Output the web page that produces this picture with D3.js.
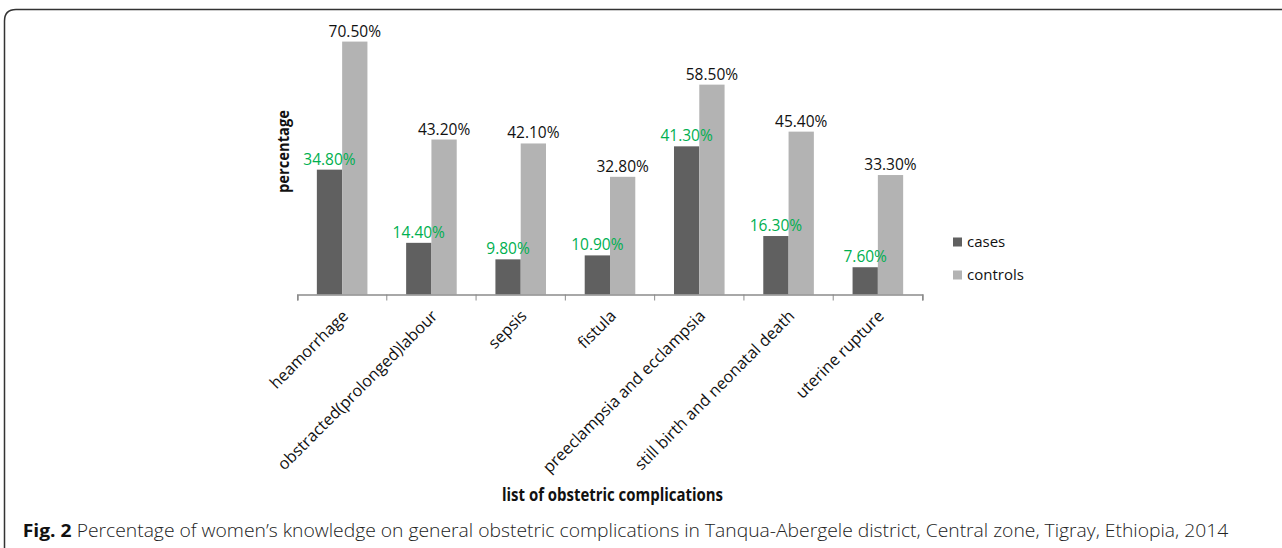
<!DOCTYPE html>
<html>
<head>
<meta charset="utf-8">
<script src="https://cdn.jsdelivr.net/npm/d3@7"></script>
<style>
  html, body { margin: 0; padding: 0; background: #fff; }
  svg { display: block; font-family: "Open Sans", sans-serif; }
</style>
</head>
<body>
<svg id="chart" width="1282" height="548"></svg>
<script>
const categories = ["heamorrhage", "obstracted(prolonged)labour", "sepsis", "fistula",
  "preeclampsia and ecclampsia", "still birth and neonatal death", "uterine rupture"];
const seriesNames = ["cases", "controls"];
const casesValues = [34.8, 14.4, 9.8, 10.9, 41.3, 16.3, 7.6];
const controlsValues = [70.5, 43.2, 42.1, 32.8, 58.5, 45.4, 33.3];
const yTitle = "percentage";
const xTitle = "list of obstetric complications";
const captionBold = "Fig. 2";
const captionText = " Percentage of women\u2019s knowledge on general obstetric complications in Tanqua-Abergele district, Central zone, Tigray, Ethiopia, 2014";

const colors = { cases: "#606060", controls: "#b3b3b3" };
const labelColors = { cases: "#00b050", controls: "#111" };

const svg = d3.select("#chart");

// frame
svg.append("path")
  .attr("d", "M4.5,548 L4.5,21 Q4.5,9.5 16,9.5 L1282,9.5")
  .attr("fill", "none").attr("stroke", "#333").attr("stroke-width", 1.5);

const x0 = d3.scaleBand().domain(categories).range([297.5, 922.5]).padding(0);
const x1 = d3.scaleBand().domain(seriesNames).range([0, x0.bandwidth()])
  .paddingInner(0).paddingOuter(0.765);
const y = d3.scaleLinear().domain([0, 80]).range([294.5, 7.5]);

const data = categories.map((c, i) => ({ cat: c, cases: casesValues[i], controls: controlsValues[i] }));

const groups = svg.append("g").selectAll("g").data(data).join("g")
  .attr("transform", d => `translate(${x0(d.cat)},0)`);

groups.selectAll("rect").data(d => seriesNames.map(s => ({ s, v: d[s] }))).join("rect")
  .attr("x", d => x1(d.s))
  .attr("width", x1.bandwidth())
  .attr("y", d => y(d.v))
  .attr("height", d => y(0) - y(d.v))
  .attr("fill", d => colors[d.s]);

groups.selectAll("text.lbl").data(d => seriesNames.map(s => ({ s, v: d[s] }))).join("text")
  .attr("class", "lbl")
  .attr("x", d => x1(d.s) + x1.bandwidth() / 2)
  .attr("y", d => y(d.v) - 5)
  .attr("text-anchor", "middle")
  .attr("font-size", 15.5)
  .attr("fill", d => labelColors[d.s])
  .text(d => d.v.toFixed(2) + "%");

// x axis
const xAxis = d3.axisBottom(x0).tickSize(6).tickSizeOuter(6).tickFormat("");
const axG = svg.append("g").attr("transform", `translate(0,${y(0)})`).call(xAxis);
axG.select(".domain").attr("stroke", "#8c8c8c").attr("stroke-width", 1.5);
axG.selectAll(".tick").remove();
// ticks at category boundaries (Excel style)
const bounds = categories.map(c => x0(c)).concat([x0.range()[1]]);
axG.selectAll("line.b").data(bounds).join("line").attr("class", "b")
  .attr("x1", d => d).attr("x2", d => d).attr("y1", 0).attr("y2", 6)
  .attr("stroke", "#8c8c8c").attr("stroke-width", 1);

// rotated category labels
svg.append("g").selectAll("text").data(categories).join("text")
  .attr("transform", d => `translate(${x0(d) + x0.bandwidth() / 2 + 7},317) rotate(-45)`)
  .attr("text-anchor", "end")
  .attr("font-size", 16.2)
  .attr("fill", "#111")
  .text(d => d);

// axis titles
svg.append("text")
  .attr("transform", "translate(289,151.5) rotate(-90)")
  .attr("text-anchor", "middle")
  .attr("font-size", 16.5).attr("font-weight", "bold").attr("fill", "#111")
  .attr("textLength", 83).attr("lengthAdjust", "spacingAndGlyphs")
  .text(yTitle);

svg.append("text")
  .attr("x", 612.5).attr("y", 501)
  .attr("text-anchor", "middle")
  .attr("font-size", 17).attr("font-weight", "bold").attr("fill", "#111")
  .attr("textLength", 221).attr("lengthAdjust", "spacingAndGlyphs")
  .text(xTitle);

// legend
const leg = svg.append("g").selectAll("g").data(seriesNames).join("g")
  .attr("transform", (d, i) => `translate(953,${237.5 + i * 33})`);
leg.append("rect").attr("width", 9).attr("height", 9).attr("fill", d => colors[d]);
leg.append("text").attr("x", 14).attr("y", 9.5)
  .attr("font-size", 15).attr("fill", "#111").text(d => d);

// caption
const cap = svg.append("text").attr("x", 22.7).attr("y", 536.5)
  .attr("font-size", 18.5).attr("fill", "#222").attr("font-weight", 300)
  .attr("textLength", 1205.6).attr("lengthAdjust", "spacingAndGlyphs");
cap.append("tspan").attr("font-weight", "bold").attr("fill", "#111").text(captionBold);
cap.append("tspan").text(captionText);
</script>
</body>
</html>
